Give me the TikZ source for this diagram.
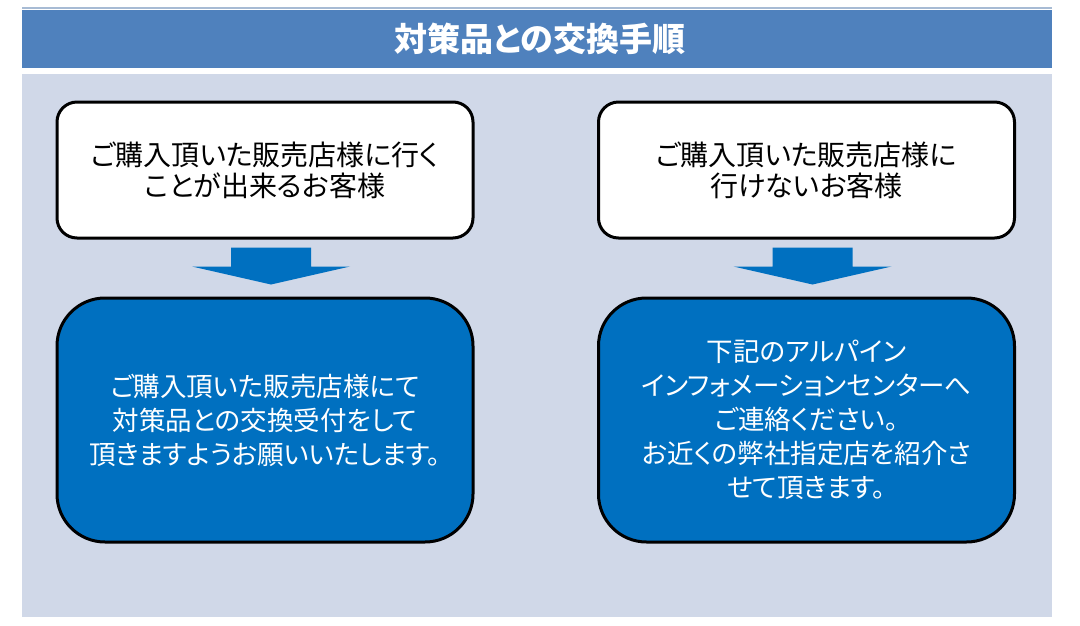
\documentclass[tikz,border=0pt]{standalone}
\usepackage{fontspec}
\setmainfont{Noto Sans CJK JP}[RawFeature=+palt]
\usetikzlibrary{positioning,calc}

\definecolor{headblue}{HTML}{4F81BD}
\definecolor{panelgray}{HTML}{D0D8E8}
\definecolor{boxblue}{HTML}{0070C0}
\definecolor{rulegray}{HTML}{A7BBD4}

\begin{document}
\begin{tikzpicture}[x=1pt,y=-1pt,
	askbox/.style={draw=black,line width=3pt,fill=white,rounded corners=20pt,
		minimum width=416pt,minimum height=136pt,align=center,
		font=\fontsize{28}{31}\selectfont},
	answerbox/.style={draw=black,line width=3pt,fill=boxblue,text=white,rounded corners=48pt,
		minimum width=416pt,minimum height=244pt,align=center,
		font=\fontsize{26.5}{34}\selectfont}]
		\useasboundingbox (0,0) rectangle (1080,625);
		% header and panel
		\draw[rulegray,line width=1.5pt] (22,8) -- (1052,8);
		\fill[headblue] (22,10) rectangle (1052,68);
		\fill[panelgray] (22,74) rectangle (1052,617);
		\node[text=white,font=\fontsize{33}{38}\selectfont\bfseries] (title) at (540,39) {対策品との交換手順};
		% boxes
		\node[askbox] (askL) at (265,170) {ご購入頂いた販売店様に行く\\ことが出来るお客様};
		\node[askbox] (askR) at (806.5,170) {ご購入頂いた販売店様に\\行けないお客様};
		\node[answerbox] (ansL) at (265,420) {ご購入頂いた販売店様にて\\対策品との交換受付をして\\頂きますようお願いいたします。};
		\node[answerbox] (ansR) at (806.5,420) {下記のアルパイン\\インフォメーションセンターへ\\ご連絡ください。\\お近くの弊社指定店を紹介さ\\せて頂きます。};
		% block arrows
		\foreach \s in {L,R}{
			\coordinate (tip\s) at ($(ans\s.north)+(6,-12)$);
			\fill[boxblue] (tip\s) -- ++(-79,-18) -- ++(39,0) -- ++(0,-19) -- ++(80,0)
				-- ++(0,19) -- ++(39,0) -- cycle;
		}
	\end{tikzpicture}
\end{document}
